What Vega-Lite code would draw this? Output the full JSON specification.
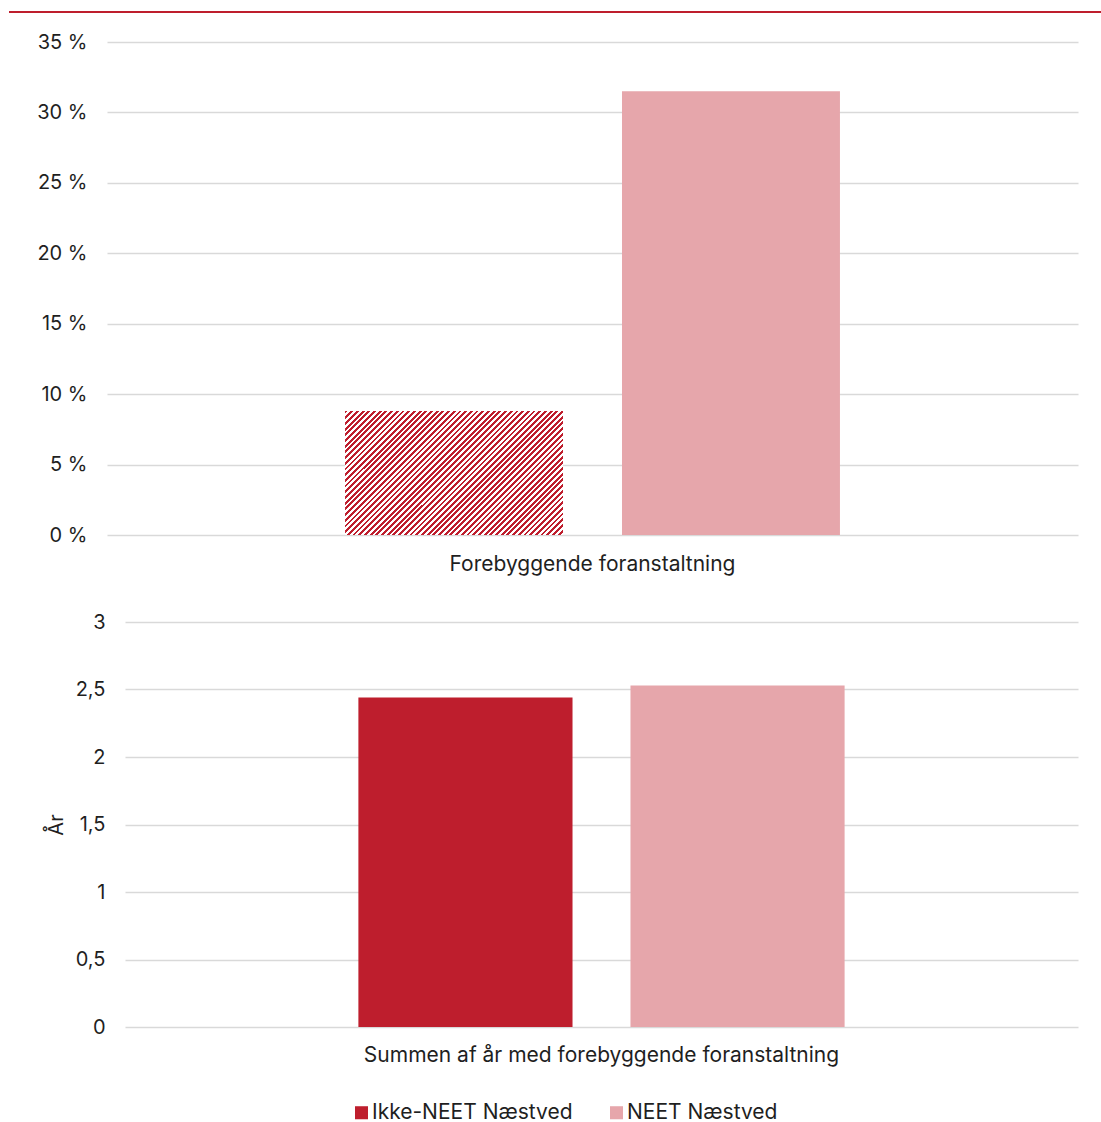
{
  "$schema": "https://vega.github.io/schema/vega-lite/v6.json",
  "autosize": {"type": "pad"},
  "padding": {"left": 8, "top": 11, "right": 0, "bottom": 0},
  "background": "white",
  "datasets": {
    "pct": [
      {"measure": "Forebyggende foranstaltning", "group": "Ikke-NEET Næstved", "value": 8.8},
      {"measure": "Forebyggende foranstaltning", "group": "NEET Næstved", "value": 31.5}
    ],
    "years": [
      {"measure": "Summen af år med forebyggende foranstaltning", "group": "Ikke-NEET Næstved", "value": 2.44},
      {"measure": "Summen af år med forebyggende foranstaltning", "group": "NEET Næstved", "value": 2.53}
    ],
    "line": [{"v": 1}]
  },
  "spacing": 19,
  "resolve": {"scale": {"xOffset": "independent", "x": "independent"}},
  "vconcat": [
    {
      "width": 1093,
      "height": 1,
      "data": {"name": "line"},
      "mark": {"type": "rule", "color": "#be1e2d", "strokeWidth": 2},
      "encoding": {"y": {"field": "v", "type": "quantitative", "scale": {"domain": [0, 1]}, "axis": null}}
    },
    {
      "spacing": 38,
      "resolve": {"scale": {"xOffset": "independent", "x": "independent"}},
      "vconcat": [
        {
          "spacing": 0,
          "hconcat": [
            {"width": 27, "height": 1, "data": {"values": []}, "mark": "point"},
            {
              "width": 971,
              "height": 493,
              "data": {"name": "pct"},
              "mark": {"type": "bar"},
              "encoding": {
                "x": {"field": "measure", "type": "nominal", "scale": {"paddingInner": 0, "paddingOuter": 0.481}, "axis": {"title": null, "labelAngle": 0, "labelPadding": 18, "labelFontSize": 21}},
                "xOffset": {"field": "group", "type": "nominal", "scale": {"domain": ["Ikke-NEET Næstved", "NEET Næstved"], "paddingInner": 0.213, "paddingOuter": 0}},
                "y": {"field": "value", "type": "quantitative", "scale": {"domain": [0, 35]}, "axis": {"title": null, "values": [0, 5, 10, 15, 20, 25, 30, 35], "labelExpr": "datum.value + ' %'", "labelPadding": 20, "grid": true}},
                "color": {
                  "field": "group", "type": "nominal",
                  "scale": {"domain": ["Ikke-NEET Næstved", "NEET Næstved"], "range": ["#be1e2d", "#e6a6ab"]},
                  "legend": {"orient": "none", "legendX": 342, "legendY": 1090, "direction": "horizontal"},
                  "condition": {"test": "datum.group === 'Ikke-NEET Næstved'", "value": {"gradient": "linear", "x1": 0, "y1": 0, "x2": 1.185, "y2": 0.674, "stops": [
{"offset":0,"color":"#be1e2d"},{"offset":0.0083,"color":"#be1e2d"},{"offset":0.0083,"color":"#fff"},{"offset":0.0167,"color":"#fff"},
{"offset":0.0167,"color":"#be1e2d"},{"offset":0.025,"color":"#be1e2d"},{"offset":0.025,"color":"#fff"},{"offset":0.0333,"color":"#fff"},
{"offset":0.0333,"color":"#be1e2d"},{"offset":0.0417,"color":"#be1e2d"},{"offset":0.0417,"color":"#fff"},{"offset":0.05,"color":"#fff"},
{"offset":0.05,"color":"#be1e2d"},{"offset":0.0583,"color":"#be1e2d"},{"offset":0.0583,"color":"#fff"},{"offset":0.0667,"color":"#fff"},
{"offset":0.0667,"color":"#be1e2d"},{"offset":0.075,"color":"#be1e2d"},{"offset":0.075,"color":"#fff"},{"offset":0.0833,"color":"#fff"},
{"offset":0.0833,"color":"#be1e2d"},{"offset":0.0917,"color":"#be1e2d"},{"offset":0.0917,"color":"#fff"},{"offset":0.1,"color":"#fff"},
{"offset":0.1,"color":"#be1e2d"},{"offset":0.1083,"color":"#be1e2d"},{"offset":0.1083,"color":"#fff"},{"offset":0.1167,"color":"#fff"},
{"offset":0.1167,"color":"#be1e2d"},{"offset":0.125,"color":"#be1e2d"},{"offset":0.125,"color":"#fff"},{"offset":0.1333,"color":"#fff"},
{"offset":0.1333,"color":"#be1e2d"},{"offset":0.1417,"color":"#be1e2d"},{"offset":0.1417,"color":"#fff"},{"offset":0.15,"color":"#fff"},
{"offset":0.15,"color":"#be1e2d"},{"offset":0.1583,"color":"#be1e2d"},{"offset":0.1583,"color":"#fff"},{"offset":0.1667,"color":"#fff"},
{"offset":0.1667,"color":"#be1e2d"},{"offset":0.175,"color":"#be1e2d"},{"offset":0.175,"color":"#fff"},{"offset":0.1833,"color":"#fff"},
{"offset":0.1833,"color":"#be1e2d"},{"offset":0.1917,"color":"#be1e2d"},{"offset":0.1917,"color":"#fff"},{"offset":0.2,"color":"#fff"},
{"offset":0.2,"color":"#be1e2d"},{"offset":0.2083,"color":"#be1e2d"},{"offset":0.2083,"color":"#fff"},{"offset":0.2167,"color":"#fff"},
{"offset":0.2167,"color":"#be1e2d"},{"offset":0.225,"color":"#be1e2d"},{"offset":0.225,"color":"#fff"},{"offset":0.2333,"color":"#fff"},
{"offset":0.2333,"color":"#be1e2d"},{"offset":0.2417,"color":"#be1e2d"},{"offset":0.2417,"color":"#fff"},{"offset":0.25,"color":"#fff"},
{"offset":0.25,"color":"#be1e2d"},{"offset":0.2583,"color":"#be1e2d"},{"offset":0.2583,"color":"#fff"},{"offset":0.2667,"color":"#fff"},
{"offset":0.2667,"color":"#be1e2d"},{"offset":0.275,"color":"#be1e2d"},{"offset":0.275,"color":"#fff"},{"offset":0.2833,"color":"#fff"},
{"offset":0.2833,"color":"#be1e2d"},{"offset":0.2917,"color":"#be1e2d"},{"offset":0.2917,"color":"#fff"},{"offset":0.3,"color":"#fff"},
{"offset":0.3,"color":"#be1e2d"},{"offset":0.3083,"color":"#be1e2d"},{"offset":0.3083,"color":"#fff"},{"offset":0.3167,"color":"#fff"},
{"offset":0.3167,"color":"#be1e2d"},{"offset":0.325,"color":"#be1e2d"},{"offset":0.325,"color":"#fff"},{"offset":0.3333,"color":"#fff"},
{"offset":0.3333,"color":"#be1e2d"},{"offset":0.3417,"color":"#be1e2d"},{"offset":0.3417,"color":"#fff"},{"offset":0.35,"color":"#fff"},
{"offset":0.35,"color":"#be1e2d"},{"offset":0.3583,"color":"#be1e2d"},{"offset":0.3583,"color":"#fff"},{"offset":0.3667,"color":"#fff"},
{"offset":0.3667,"color":"#be1e2d"},{"offset":0.375,"color":"#be1e2d"},{"offset":0.375,"color":"#fff"},{"offset":0.3833,"color":"#fff"},
{"offset":0.3833,"color":"#be1e2d"},{"offset":0.3917,"color":"#be1e2d"},{"offset":0.3917,"color":"#fff"},{"offset":0.4,"color":"#fff"},
{"offset":0.4,"color":"#be1e2d"},{"offset":0.4083,"color":"#be1e2d"},{"offset":0.4083,"color":"#fff"},{"offset":0.4167,"color":"#fff"},
{"offset":0.4167,"color":"#be1e2d"},{"offset":0.425,"color":"#be1e2d"},{"offset":0.425,"color":"#fff"},{"offset":0.4333,"color":"#fff"},
{"offset":0.4333,"color":"#be1e2d"},{"offset":0.4417,"color":"#be1e2d"},{"offset":0.4417,"color":"#fff"},{"offset":0.45,"color":"#fff"},
{"offset":0.45,"color":"#be1e2d"},{"offset":0.4583,"color":"#be1e2d"},{"offset":0.4583,"color":"#fff"},{"offset":0.4667,"color":"#fff"},
{"offset":0.4667,"color":"#be1e2d"},{"offset":0.475,"color":"#be1e2d"},{"offset":0.475,"color":"#fff"},{"offset":0.4833,"color":"#fff"},
{"offset":0.4833,"color":"#be1e2d"},{"offset":0.4917,"color":"#be1e2d"},{"offset":0.4917,"color":"#fff"},{"offset":0.5,"color":"#fff"},
{"offset":0.5,"color":"#be1e2d"},{"offset":0.5083,"color":"#be1e2d"},{"offset":0.5083,"color":"#fff"},{"offset":0.5167,"color":"#fff"},
{"offset":0.5167,"color":"#be1e2d"},{"offset":0.525,"color":"#be1e2d"},{"offset":0.525,"color":"#fff"},{"offset":0.5333,"color":"#fff"},
{"offset":0.5333,"color":"#be1e2d"},{"offset":0.5417,"color":"#be1e2d"},{"offset":0.5417,"color":"#fff"},{"offset":0.55,"color":"#fff"},
{"offset":0.55,"color":"#be1e2d"},{"offset":0.5583,"color":"#be1e2d"},{"offset":0.5583,"color":"#fff"},{"offset":0.5667,"color":"#fff"},
{"offset":0.5667,"color":"#be1e2d"},{"offset":0.575,"color":"#be1e2d"},{"offset":0.575,"color":"#fff"},{"offset":0.5833,"color":"#fff"},
{"offset":0.5833,"color":"#be1e2d"},{"offset":0.5917,"color":"#be1e2d"},{"offset":0.5917,"color":"#fff"},{"offset":0.6,"color":"#fff"},
{"offset":0.6,"color":"#be1e2d"},{"offset":0.6083,"color":"#be1e2d"},{"offset":0.6083,"color":"#fff"},{"offset":0.6167,"color":"#fff"},
{"offset":0.6167,"color":"#be1e2d"},{"offset":0.625,"color":"#be1e2d"},{"offset":0.625,"color":"#fff"},{"offset":0.6333,"color":"#fff"},
{"offset":0.6333,"color":"#be1e2d"},{"offset":0.6417,"color":"#be1e2d"},{"offset":0.6417,"color":"#fff"},{"offset":0.65,"color":"#fff"},
{"offset":0.65,"color":"#be1e2d"},{"offset":0.6583,"color":"#be1e2d"},{"offset":0.6583,"color":"#fff"},{"offset":0.6667,"color":"#fff"},
{"offset":0.6667,"color":"#be1e2d"},{"offset":0.675,"color":"#be1e2d"},{"offset":0.675,"color":"#fff"},{"offset":0.6833,"color":"#fff"},
{"offset":0.6833,"color":"#be1e2d"},{"offset":0.6917,"color":"#be1e2d"},{"offset":0.6917,"color":"#fff"},{"offset":0.7,"color":"#fff"},
{"offset":0.7,"color":"#be1e2d"},{"offset":0.7083,"color":"#be1e2d"},{"offset":0.7083,"color":"#fff"},{"offset":0.7167,"color":"#fff"},
{"offset":0.7167,"color":"#be1e2d"},{"offset":0.725,"color":"#be1e2d"},{"offset":0.725,"color":"#fff"},{"offset":0.7333,"color":"#fff"},
{"offset":0.7333,"color":"#be1e2d"},{"offset":0.7417,"color":"#be1e2d"},{"offset":0.7417,"color":"#fff"},{"offset":0.75,"color":"#fff"},
{"offset":0.75,"color":"#be1e2d"},{"offset":0.7583,"color":"#be1e2d"},{"offset":0.7583,"color":"#fff"},{"offset":0.7667,"color":"#fff"},
{"offset":0.7667,"color":"#be1e2d"},{"offset":0.775,"color":"#be1e2d"},{"offset":0.775,"color":"#fff"},{"offset":0.7833,"color":"#fff"},
{"offset":0.7833,"color":"#be1e2d"},{"offset":0.7917,"color":"#be1e2d"},{"offset":0.7917,"color":"#fff"},{"offset":0.8,"color":"#fff"},
{"offset":0.8,"color":"#be1e2d"},{"offset":0.8083,"color":"#be1e2d"},{"offset":0.8083,"color":"#fff"},{"offset":0.8167,"color":"#fff"},
{"offset":0.8167,"color":"#be1e2d"},{"offset":0.825,"color":"#be1e2d"},{"offset":0.825,"color":"#fff"},{"offset":0.8333,"color":"#fff"},
{"offset":0.8333,"color":"#be1e2d"},{"offset":0.8417,"color":"#be1e2d"},{"offset":0.8417,"color":"#fff"},{"offset":0.85,"color":"#fff"},
{"offset":0.85,"color":"#be1e2d"},{"offset":0.8583,"color":"#be1e2d"},{"offset":0.8583,"color":"#fff"},{"offset":0.8667,"color":"#fff"},
{"offset":0.8667,"color":"#be1e2d"},{"offset":0.875,"color":"#be1e2d"},{"offset":0.875,"color":"#fff"},{"offset":0.8833,"color":"#fff"},
{"offset":0.8833,"color":"#be1e2d"},{"offset":0.8917,"color":"#be1e2d"},{"offset":0.8917,"color":"#fff"},{"offset":0.9,"color":"#fff"},
{"offset":0.9,"color":"#be1e2d"},{"offset":0.9083,"color":"#be1e2d"},{"offset":0.9083,"color":"#fff"},{"offset":0.9167,"color":"#fff"},
{"offset":0.9167,"color":"#be1e2d"},{"offset":0.925,"color":"#be1e2d"},{"offset":0.925,"color":"#fff"},{"offset":0.9333,"color":"#fff"},
{"offset":0.9333,"color":"#be1e2d"},{"offset":0.9417,"color":"#be1e2d"},{"offset":0.9417,"color":"#fff"},{"offset":0.95,"color":"#fff"},
{"offset":0.95,"color":"#be1e2d"},{"offset":0.9583,"color":"#be1e2d"},{"offset":0.9583,"color":"#fff"},{"offset":0.9667,"color":"#fff"},
{"offset":0.9667,"color":"#be1e2d"},{"offset":0.975,"color":"#be1e2d"},{"offset":0.975,"color":"#fff"},{"offset":0.9833,"color":"#fff"},
{"offset":0.9833,"color":"#be1e2d"},{"offset":0.9917,"color":"#be1e2d"},{"offset":0.9917,"color":"#fff"},{"offset":1,"color":"#fff"}
                  ]}}
                }
              }
            }
          ]
        },
        {
          "spacing": 0,
          "hconcat": [
            {"width": 36.5, "height": 1, "data": {"values": []}, "mark": "point"},
            {
              "width": 953,
              "height": 405,
              "data": {"name": "years"},
              "mark": {"type": "bar"},
              "encoding": {
                "x": {"field": "measure", "type": "nominal", "scale": {"paddingInner": 0, "paddingOuter": 0.48}, "axis": {"title": null, "labelAngle": 0, "labelPadding": 17, "labelFontSize": 21}},
                "xOffset": {"field": "group", "type": "nominal", "scale": {"domain": ["Ikke-NEET Næstved", "NEET Næstved"], "paddingInner": 0.213, "paddingOuter": 0}},
                "y": {"field": "value", "type": "quantitative", "scale": {"domain": [0, 3]}, "axis": {"title": "År", "values": [0, 0.5, 1, 1.5, 2, 2.5, 3], "labelExpr": "replace(toString(datum.value), '.', ',')", "labelPadding": 20, "titlePadding": 9, "grid": true}},
                "color": {"field": "group", "type": "nominal", "scale": {"domain": ["Ikke-NEET Næstved", "NEET Næstved"], "range": ["#be1e2d", "#e6a6ab"]}}
              }
            }
          ]
        }
      ]
    }
  ],
  "config": {
    "font": "Inter",
    "view": {"stroke": null},
    "axis": {
      "labelFont": "Inter", "labelFontSize": 20, "labelColor": "#1f1f1f", "labelLimit": 0,
      "titleFont": "Inter", "titleFontSize": 20, "titleFontWeight": "normal", "titleColor": "#1f1f1f",
      "domain": false, "ticks": false, "gridColor": "#d9d9d9", "gridWidth": 1.5
    },
    "legend": {
      "title": null, "symbolType": "square", "symbolSize": 170,
      "symbolStrokeWidth": 0, "labelFont": "Inter", "labelFontSize": 21, "labelColor": "#1f1f1f", "labelLimit": 0,
      "columnPadding": 33, "labelOffset": 0
    }
  }
}
